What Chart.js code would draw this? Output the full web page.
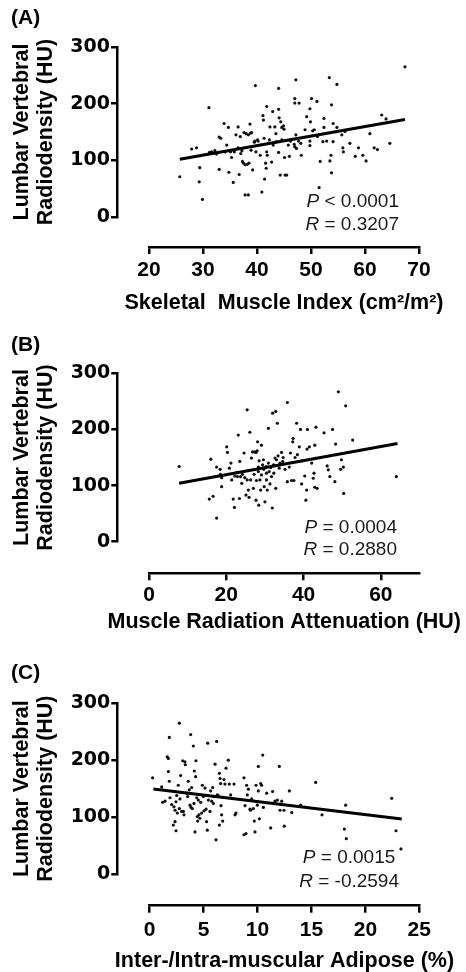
<!DOCTYPE html>
<html>
<head>
<meta charset="utf-8">
<script src="https://cdn.jsdelivr.net/npm/chart.js@4.4.1/dist/chart.umd.min.js"></script>
<style>
  html, body { margin: 0; padding: 0; background: #fff; }
  body { width: 466px; height: 972px; position: relative; overflow: hidden; }
  canvas { position: absolute; left: 0; display: block; }
  .stat { position: absolute; font: 19px 'Liberation Sans', Arial, Helvetica, sans-serif; line-height: 19px;
          color: #1a1a1a; white-space: pre; text-align: right; }
  .stat i { font-style: italic; }
</style>
</head>
<body>
<canvas id="cA" width="466" height="324" style="top:0px"></canvas>
<canvas id="cB" width="466" height="326" style="top:324px"></canvas>
<canvas id="cC" width="466" height="322" style="top:650px"></canvas>
<script>
// ---------- text ----------
const panelLabels = ['(A)', '(B)', '(C)'];
const yTitleLines = ['Lumbar Vertebral', 'Radiodensity (HU)'];
const xTitles = ['Skeletal  Muscle Index (cm\u00B2/m\u00B2)', 'Muscle Radiation Attenuation (HU)', 'Inter-/Intra-muscular Adipose (%)'];
const statsA = [['P', ' < 0.0001'], ['R', ' = 0.3207']];
const statsB = [['P', ' = 0.0004'], ['R', ' = 0.2880']];
const statsC = [['P', ' = 0.0015'], ['R', ' = -0.2594']];

// ---------- ticks / ranges ----------
const yTicks = [0, 100, 200, 300];
const yRange = [0, 300];
const xTicksA = [20, 30, 40, 50, 60, 70];
const xTicksB = [0, 20, 40, 60];
const xTicksC = [0, 5, 10, 15, 20, 25];
const xRangeA = [20, 70];
const xRangeB = [0, 70];
const xRangeC = [0, 25];

// ---------- (A) Skeletal Muscle Index ----------
const smiX = [25.7,27.9,28.8,29.4,29.3,29.9,31.1,31.2,31.6,32.2,32.5,33.0,33.0,33.3,33.9,34.1,34.4,34.7,34.8,35.1,35.3,35.6,35.8,36.1,36.5,36.5,36.7,36.9,37.0,37.2,37.3,37.5,37.6,37.8,38.0,38.2,38.4,38.5,38.7,38.8,38.9,39.0,37.8,38.4,39.2,39.5,39.6,39.7,39.8,40.1,40.2,40.6,40.9,41.1,41.2,41.3,41.4,41.6,41.7,41.8,41.8,41.9,42.1,42.3,42.4,42.7,42.9,43.0,43.3,43.5,43.6,44.0,44.0,44.0,44.1,44.3,44.4,44.6,44.6,44.9,45.0,45.1,45.2,45.5,45.8,46.0,46.2,46.9,47.0,47.0,47.0,47.2,47.2,47.3,47.7,47.8,48.1,48.2,48.9,49.2,49.8,49.8,49.8,49.9,50.1,50.3,50.6,51.1,51.2,51.5,51.7,52.2,52.4,52.4,52.9,53.4,53.5,53.7,53.8,53.8,54.1,54.1,54.8,54.8,55.7,55.9,56.0,56.3,57.2,58.2,58.8,59.6,60.2,60.9,61.7,62.3,63.1,63.9,64.6,67.4];
const smiY = [71,120,122,87,62,31,193,114,115,117,111,141,84,139,165,115,127,158,79,115,105,61,115,145,159,122,75,142,112,117,98,95,149,92,147,93,145,95,164,148,118,149,39,39,83,132,134,232,115,136,134,109,44,179,171,139,67,95,86,195,115,109,130,136,159,97,186,127,159,147,133,227,190,114,175,74,168,136,158,161,155,105,74,74,127,107,134,128,124,209,201,145,242,121,134,201,130,109,154,177,191,134,126,168,209,152,154,204,142,52,98,133,174,158,134,246,99,109,198,78,133,165,234,158,145,122,115,151,130,107,122,109,99,147,122,119,180,173,130,265];
const fitAX = [25.7, 67.4];
const fitAY = [102, 172];

// ---------- (B) Muscle Radiation Attenuation ----------
const mraX = [7.8,15.6,16.6,16.0,17.5,18.4,18.5,18.8,18.8,20.1,20.3,20.8,21.2,21.4,21.8,22.1,22.2,22.7,22.9,23.1,23.4,23.5,23.7,24.0,24.2,24.6,24.8,25.1,25.4,25.4,25.7,25.9,26.1,26.3,26.5,26.8,27.0,27.2,27.4,27.7,27.7,27.8,28.0,28.1,28.3,28.3,28.4,28.5,28.7,28.9,29.1,29.1,29.4,29.6,29.7,29.8,30.0,30.3,30.4,30.4,30.6,30.9,30.9,31.1,31.3,31.5,31.7,31.9,32.0,32.2,32.3,32.6,32.8,32.8,33.0,33.2,33.4,33.7,33.9,34.3,34.6,34.7,35.2,35.8,35.8,36.3,36.6,36.9,37.2,37.3,37.5,37.8,38.2,38.4,38.9,39.2,39.5,39.7,40.3,40.6,40.8,40.9,41.0,41.5,42.1,42.5,42.7,42.9,42.9,43.2,43.5,45.3,46.1,46.4,46.8,47.5,48.1,48.3,49.0,49.6,49.8,50.3,50.4,50.9,52.7,64.0,17.5];
const mraY = [134,76,81,147,133,129,120,98,114,169,159,131,140,110,76,61,117,123,116,190,77,143,116,104,120,158,114,83,235,110,92,79,195,110,149,160,95,120,160,159,74,109,162,178,125,133,65,144,110,92,172,119,137,146,129,98,71,134,122,110,92,202,140,125,103,132,116,60,229,137,122,149,232,95,146,211,153,131,140,159,143,150,129,248,107,133,158,109,178,184,109,150,211,155,169,200,103,144,117,74,92,165,200,169,140,113,122,172,97,204,95,194,135,128,116,200,107,174,267,129,146,133,86,242,181,116,42];
const fitBX = [7.8, 64.3];
const fitBY = [104, 175];

// ---------- (C) Inter-/Intra-muscular Adipose ----------
const imatX = [0.27,1.11,1.20,1.42,1.63,1.73,1.73,1.82,1.82,1.88,2.04,2.19,2.25,2.35,2.35,2.44,2.44,2.50,2.56,2.65,2.75,2.75,2.81,2.87,2.96,3.06,3.12,3.18,3.27,3.30,3.43,3.52,3.58,3.67,3.74,3.80,3.83,3.89,3.95,4.05,4.11,4.14,4.20,4.26,4.29,4.36,4.42,4.45,4.51,4.57,4.66,4.73,4.82,4.88,4.97,5.04,5.13,5.22,5.28,5.34,5.38,5.44,5.59,5.65,5.75,5.84,5.90,5.96,6.06,6.15,6.21,6.27,6.36,6.46,6.46,6.52,6.58,6.61,6.67,6.77,6.89,6.98,7.08,7.29,7.38,7.51,7.82,7.91,8.00,8.74,8.74,8.84,8.93,8.99,9.05,9.15,9.30,9.36,9.46,9.61,9.70,9.76,9.86,9.92,9.98,10.07,10.07,10.17,10.29,10.38,10.48,10.54,10.85,11.22,11.40,11.62,11.84,12.02,12.08,12.24,12.45,12.48,12.95,13.17,14.00,15.39,15.98,18.05,18.17,18.23,22.44,22.84,23.30];
const imatY = [169,153,126,128,206,203,180,240,163,134,122,86,118,112,92,127,76,138,107,156,265,115,132,173,110,199,110,104,197,192,142,136,163,148,121,245,117,152,115,225,124,181,74,171,199,134,101,93,130,104,98,126,107,156,136,111,151,114,92,77,230,130,110,146,128,152,124,136,193,60,233,139,138,177,86,168,159,120,104,93,166,158,186,200,158,139,158,104,107,169,69,120,71,156,139,149,114,112,132,115,93,74,156,127,121,189,146,97,159,156,209,117,142,81,145,128,130,189,112,128,112,84,146,108,121,161,104,79,121,62,133,76,44];
const fitCX = [0.34, 23.37];
const fitCY = [149.3, 96.6];

// ---------- rendering ----------
const SANS = "'Liberation Sans', Arial, Helvetica, sans-serif";
const WIDE = "'DejaVu Sans', 'Liberation Sans', sans-serif";
const INK = '#000';
function pts(xs, ys) { return xs.map((v, i) => ({ x: v, y: ys[i] })); }

function detachPlugin(g) {
  return {
    id: 'detachAxes',
    afterLayout(chart) {
      const s = chart.scales;
      const ca = chart.chartArea;
      // offset (detached) axes
      s.y.right = g.yAxisX; s.y.width = s.y.right - s.y.left;
      s.x.top = g.xAxisY; s.x.bottom = g.xAxisY + 80; s.x.height = 80;
      // title-only helper axes (allowed to be wider than the plot)
      const cy = (ca.top + ca.bottom) / 2;
      s.yT.left = g.yTitleLeft; s.yT.right = g.yTitleLeft + 50; s.yT.width = 50;
      s.yT.top = cy - 170; s.yT.bottom = cy + 170; s.yT.height = 340;
      const cx = (ca.left + ca.right) / 2;
      s.xT.left = cx - 232; s.xT.right = cx + 232; s.xT.width = 464;
      s.xT.bottom = g.xTitleY + 21.5 * 1.2 / 2; s.xT.top = s.xT.bottom - 40; s.xT.height = 40;
    }
  };
}

// statistics as real HTML text, placed from the chart's own plot area
function addStats(chart, cv, lines, g) {
  const ca = chart.chartArea;
  const top0 = parseFloat(cv.style.top) || 0;
  lines.forEach((ln, i) => {
    const d = document.createElement('div');
    d.className = 'stat';
    const bx = ca.right - g.statRight[i];
    const by = top0 + ca.bottom + g.statBase[i];
    d.style.right = (466 - bx) + 'px';
    d.style.top = (by - 16.1) + 'px';
    const it = document.createElement('i');
    it.textContent = ln[0];
    d.appendChild(it);
    d.appendChild(document.createTextNode(ln[1]));
    document.body.appendChild(d);
  });
}

function makePanel(id, spec) {
  const cv = document.getElementById(id);
  const H = cv.height;
  const g = spec.geo;
  const chart = new Chart(cv, {
    type: 'scatter',
    data: { datasets: [
      { type: 'line', data: pts(spec.fitX, spec.fitY), borderColor: INK, borderWidth: 3, pointRadius: 0, fill: false, tension: 0, order: 0 },
      { type: 'scatter', data: pts(spec.xs, spec.ys), backgroundColor: '#111', borderWidth: 0, pointRadius: 1.6, order: 1 } ] },
    options: {
      responsive: false, animation: false, events: [],
      layout: { padding: { left: g.padL, right: 466 - g.R, top: 0, bottom: 0 } },
      plugins: { legend: { display: false }, tooltip: { enabled: false },
        title: { display: true, text: spec.label, align: 'start', color: INK,
          font: { family: SANS, size: 21, weight: 'bold', lineHeight: 1.2 },
          padding: { top: g.labPT, bottom: g.T - 25.2 - g.labPT } } },
      scales: {
        x: { type: 'linear', position: 'bottom', min: spec.xRange[0], max: spec.xRange[1],
          afterFit: (s) => { s.height = H - g.B; },
          afterBuildTicks: (s) => { s.ticks = spec.xTicks.map(v => ({ value: v })); },
          grid: { drawOnChartArea: false, drawTicks: true, tickLength: 7, lineWidth: 2.5, color: INK },
          border: { display: true, width: 2.5, color: INK },
          ticks: { color: INK, padding: g.xTickPad, maxRotation: 0, autoSkip: false,
                   font: { family: SANS, size: 21, weight: 'bold', lineHeight: 1.2 } },
          title: { display: false } },
        y: { type: 'linear', position: 'left', min: yRange[0], max: yRange[1],
          afterFit: (s) => { s.width = g.L - g.padL; },
          afterBuildTicks: (s) => { s.ticks = yTicks.map(v => ({ value: v })); },
          grid: { drawOnChartArea: false, drawTicks: true, tickLength: 6, lineWidth: 2.5, color: INK },
          border: { display: true, width: 2.5, color: INK },
          ticks: { color: INK, padding: 1, font: { family: WIDE, size: 19, weight: 'bold' } },
          title: { display: false } },
        xT: { type: 'linear', position: 'bottom', display: true, grid: { display: false }, border: { display: false }, ticks: { display: false },
          afterFit: (s) => { s.height = 0; },
          title: { display: true, text: spec.xTitle, color: INK, padding: 0,
                   font: { family: SANS, size: 21.5, weight: 'bold', lineHeight: 1.2 } } },
        yT: { type: 'linear', position: 'left', display: true, grid: { display: false }, border: { display: false }, ticks: { display: false },
          afterFit: (s) => { s.width = 0; },
          title: { display: true, text: yTitleLines, color: INK, padding: 0,
                   font: { family: SANS, size: 21.5, weight: 'bold', lineHeight: 1.1 } } }
      }
    },
    plugins: [detachPlugin(g)]
  });
  addStats(chart, cv, spec.stats, g);
  return chart;
}

makePanel('cA', { label: panelLabels[0], xTitle: xTitles[0], xs: smiX, ys: smiY, fitX: fitAX, fitY: fitAY,
  xTicks: xTicksA, xRange: xRangeA, stats: statsA,
  geo: { padL: 11, L: 149, R: 419, T: 47, B: 217, yAxisX: 117, xAxisY: 247, labPT: 6.1, xTickPad: 4,
         yTitleLeft: 10.5, xTitleY: 303, statRight: [20, 20], statBase: [-10.3, 13] } });
makePanel('cB', { label: panelLabels[1], xTitle: xTitles[1], xs: mraX, ys: mraY, fitX: fitBX, fitY: fitBY,
  xTicks: xTicksB, xRange: xRangeB, stats: statsB,
  geo: { padL: 11, L: 149, R: 419.5, T: 49.3, B: 217.7, yAxisX: 117.3, xAxisY: 249.3, labPT: 9.1, xTickPad: 2.5,
         yTitleLeft: 10.5, xTitleY: 298.5, statRight: [22.5, 22.5], statBase: [-8.4, 13.3] } });
makePanel('cC', { label: panelLabels[2], xTitle: xTitles[2], xs: imatX, ys: imatY, fitX: fitCX, fitY: fitCY,
  xTicks: xTicksC, xRange: xRangeC, stats: statsC,
  geo: { padL: 11, L: 149.7, R: 419.3, T: 53.3, B: 224, yAxisX: 117.3, xAxisY: 255.7, labPT: 11.1, xTickPad: 5,
         yTitleLeft: 10.5, xTitleY: 310.8, statRight: [24, 20.3], statBase: [-10.7, 12.7] } });
</script>
</body>
</html>
